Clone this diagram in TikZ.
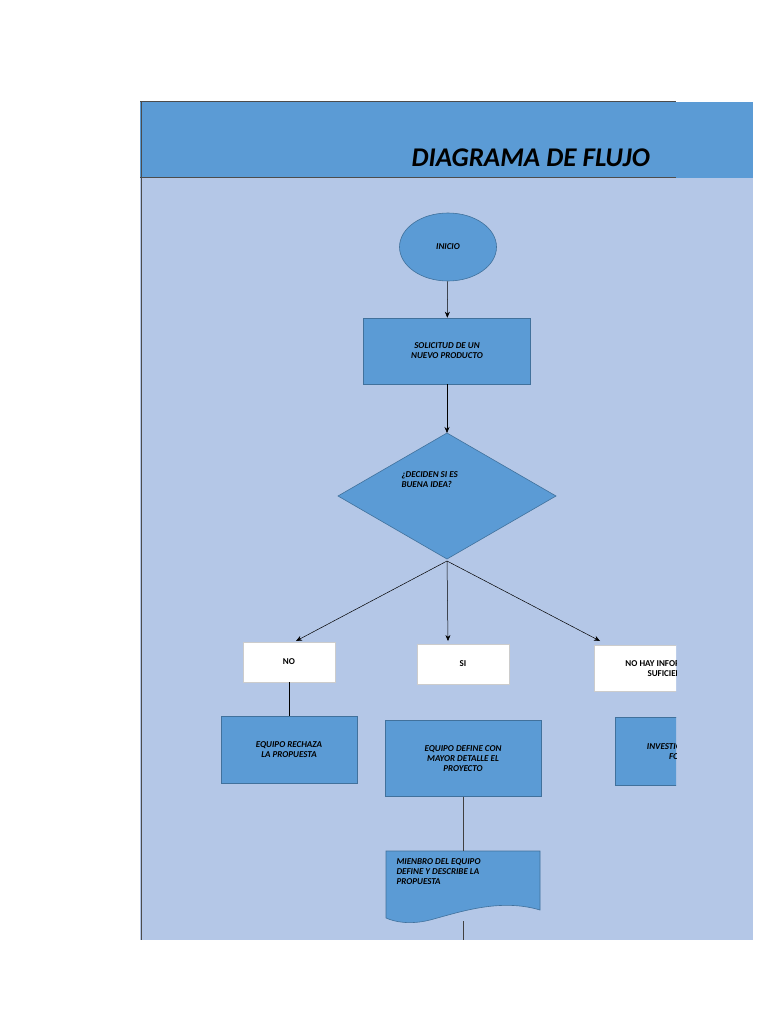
\documentclass[tikz,border=0pt]{standalone}
\usepackage{fontspec}
\setmainfont{Carlito}
\usetikzlibrary{shapes.geometric,arrows.meta}
\begin{document}
\begin{tikzpicture}[x=1pt,y=-1pt,
  fill1/.style={fill=blue1,draw=edge,line width=0.6pt},
  lbl/.style={font=\bfseries\itshape\fontsize{9}{10}\selectfont,align=center,text=black},
  wbox/.style={fill=white,draw=gray!40,line width=0.4pt},
  arr/.style={-{Stealth[length=6pt,width=5pt]},line width=0.5pt}]
\definecolor{blue1}{HTML}{5B9BD5}
\definecolor{panel}{HTML}{B4C7E7}
\definecolor{edge}{HTML}{41719C}
\useasboundingbox (0,0) rectangle (768,1024);
\fill[panel] (140,102) rectangle (753,940);
\fill[blue1] (140,102) rectangle (753,178);
\draw[gray!60!black,line width=1pt] (141,102) -- (141,940);
\draw[gray!60!black,line width=1pt] (140,102) -- (676,102);
\draw[gray!60!black,line width=1pt] (140,178) -- (676,178);
\begin{scope}
\clip (0,0) rectangle (676,1024);
\node[font=\bfseries\itshape\fontsize{27}{30}\selectfont,anchor=west] (title) at (408,158) {DIAGRAMA DE FLUJO};
\node[ellipse,fill1,minimum width=97pt,minimum height=68pt,inner sep=0pt,lbl] (inicio) at (448,247) {INICIO};
\node[rectangle,fill1,minimum width=167pt,minimum height=66pt,lbl] (sol) at (447,351) {SOLICITUD DE UN\\NUEVO PRODUCTO};
\draw[fill1] (447,433) -- (556,496) -- (447,559) -- (338,496) -- cycle;
\coordinate (dtop) at (447,433);
\coordinate (dbot) at (447,561);
\node[lbl,align=left,anchor=north west] (dec) at (398,468) {¿DECIDEN SI ES\\BUENA IDEA?};
\node[wbox,minimum width=92pt,minimum height=40pt,font=\bfseries\fontsize{9}{10}\selectfont] (no) at (289,662) {NO};
\node[wbox,minimum width=92pt,minimum height=40pt,font=\bfseries\fontsize{9}{10}\selectfont] (si) at (463,664) {SI};
\node[wbox,minimum width=150pt,minimum height=46pt,font=\bfseries\fontsize{9}{10}\selectfont,align=center] (nohay) at (669,668) {NO HAY INFORMACIÓN\\SUFICIENTE};
\node[rectangle,fill1,minimum width=136pt,minimum height=67pt,lbl] (rech) at (289,750) {EQUIPO RECHAZA\\LA PROPUESTA};
\node[rectangle,fill1,minimum width=156pt,minimum height=76pt,lbl,anchor=north] (def) at (463,720) {EQUIPO DEFINE CON\\MAYOR DETALLE EL\\PROYECTO};
\path (def.north) ++(0,4) node[lbl] {};
\node[rectangle,fill1,minimum width=136pt,minimum height=68pt,lbl] (inv) at (683,751) {INVESTIGAR MÁS A\\FONDO};
\draw[fill1] (386,851) -- (540,851) -- (540,910) .. controls (500,898) and (460,912) .. (430,920) .. controls (410,925) and (395,922) .. (386,918) -- cycle;
\coordinate (doctop) at (463,851);
\coordinate (docbot) at (463,921);
\coordinate (endp) at (463,940);
\node[lbl,align=left,anchor=north west] (doc) at (393,855) {MIENBRO DEL EQUIPO\\DEFINE Y DESCRIBE LA\\PROPUESTA};
\draw[arr] (inicio) -- (sol);
\draw[arr] (sol) -- (dtop);
\draw[arr] (dbot) -- (296,641);
\draw[arr] (dbot) -- (448,641);
\draw[arr] (dbot) -- (600,641);
\draw[line width=0.5pt] (no) -- (rech);
\draw[gray!50!black,line width=0.5pt] (def) -- (doctop);
\draw[gray!50!black,line width=0.5pt] (docbot) -- (endp);
\end{scope}
\end{tikzpicture}
\end{document}
